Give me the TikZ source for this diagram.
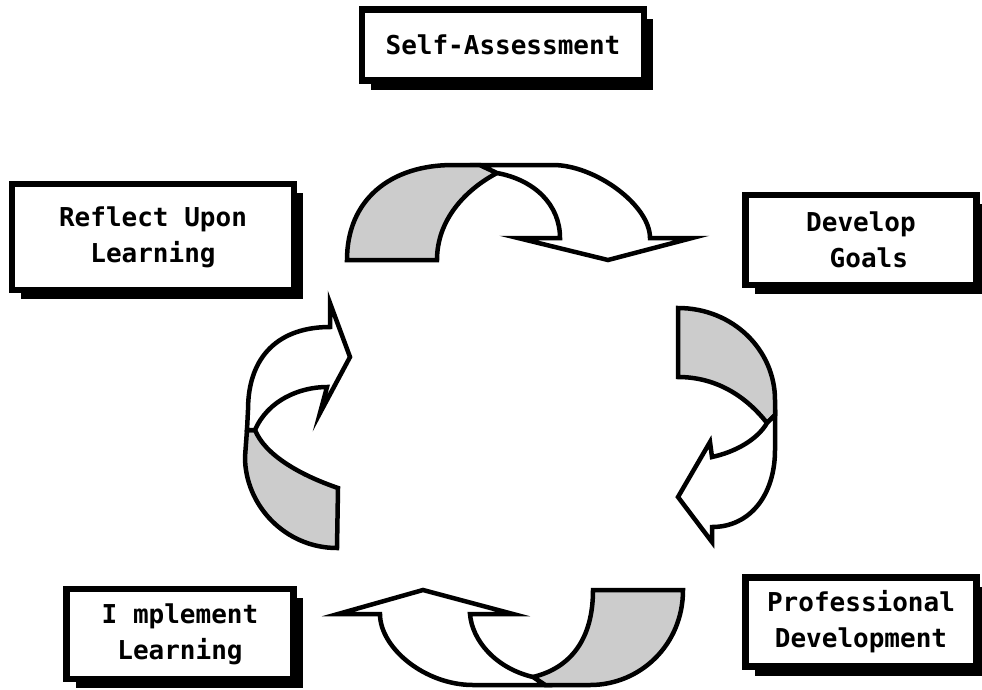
\documentclass[tikz,border=0pt]{standalone}
\usepackage{fontspec}
\setmonofont{DejaVu Sans Mono}
\usepackage{tikz}
\usetikzlibrary{shadows}

\begin{document}
\begin{tikzpicture}[x=1pt,y=-1pt,
  stagebox/.style={draw,line width=6.5pt,fill=white,align=center,inner sep=0pt,
    font=\ttfamily\bfseries\fontsize{26}{36}\selectfont,
    drop shadow={shadow xshift=9pt,shadow yshift=-9pt,fill=black,opacity=1}},
  ribbon/.style={draw,line width=4.5pt,fill=white},
  backside/.style={ribbon,fill=gray!40}]
\useasboundingbox (0,0) rectangle (982,689);
\node[stagebox,minimum width=282,minimum height=71] (self) at (503,45) {Self-Assessment};
\node[stagebox,minimum width=282,minimum height=106] (reflect) at (153,237) {Reflect Upon\\Learning};
\node[stagebox,minimum width=231,minimum height=90] (goals) at (861,240) {Develop\\~Goals};
\node[stagebox,minimum width=231,minimum height=89] (prof) at (861,622) {Professional\\Development};
\node[stagebox,minimum width=227,minimum height=90] (impl) at (180,634) {I mplement\\Learning};
% top
\draw[backside] (347,260) .. controls (347,200) and (390,165) .. (453,165) -- (480,165) -- (497,173) .. controls (465,190) and (437,220) .. (437,260) -- cycle;
\draw[ribbon] (480,165) -- (553,165) .. controls (595,165) and (650,205) .. (650,238) -- (692,238) -- (608,260) -- (518,238) -- (560,238) .. controls (560,205) and (535,180) .. (497,173) -- cycle;
% right
\draw[backside] (678,308) .. controls (733,308) and (775,350) .. (775,400) -- (775,415) -- (767,423) .. controls (745,395) and (715,377) .. (678,377) -- cycle;
\draw[ribbon] (775,415) -- (775,450) .. controls (775,495) and (750,527) .. (712,527) -- (712,542) -- (678,497) -- (710,442) -- (712,457) .. controls (735,452) and (757,440) .. (767,423) -- cycle;
% bottom
\draw[backside] (683,590) .. controls (683,645) and (640,685) .. (590,685) -- (545,685) -- (533,677) .. controls (570,668) and (593,640) .. (593,590) -- cycle;
\draw[ribbon] (545,685) -- (473,685) .. controls (425,685) and (380,648) .. (380,614) -- (338,614) -- (423,590) -- (513,614) -- (470,614) .. controls (472,640) and (495,668) .. (533,677) -- cycle;
% left
\draw[backside] (337,548) .. controls (285,548) and (245,505) .. (245,457) -- (247,430) -- (255,430) .. controls (265,455) and (300,475) .. (338,488) -- cycle;
\draw[ribbon] (247,430) -- (248,410) .. controls (248,355) and (280,327) .. (330,327) -- (330,303) -- (350,357) -- (320,413) -- (327,387) .. controls (300,387) and (268,400) .. (255,430) -- cycle;
\end{tikzpicture}
\end{document}
